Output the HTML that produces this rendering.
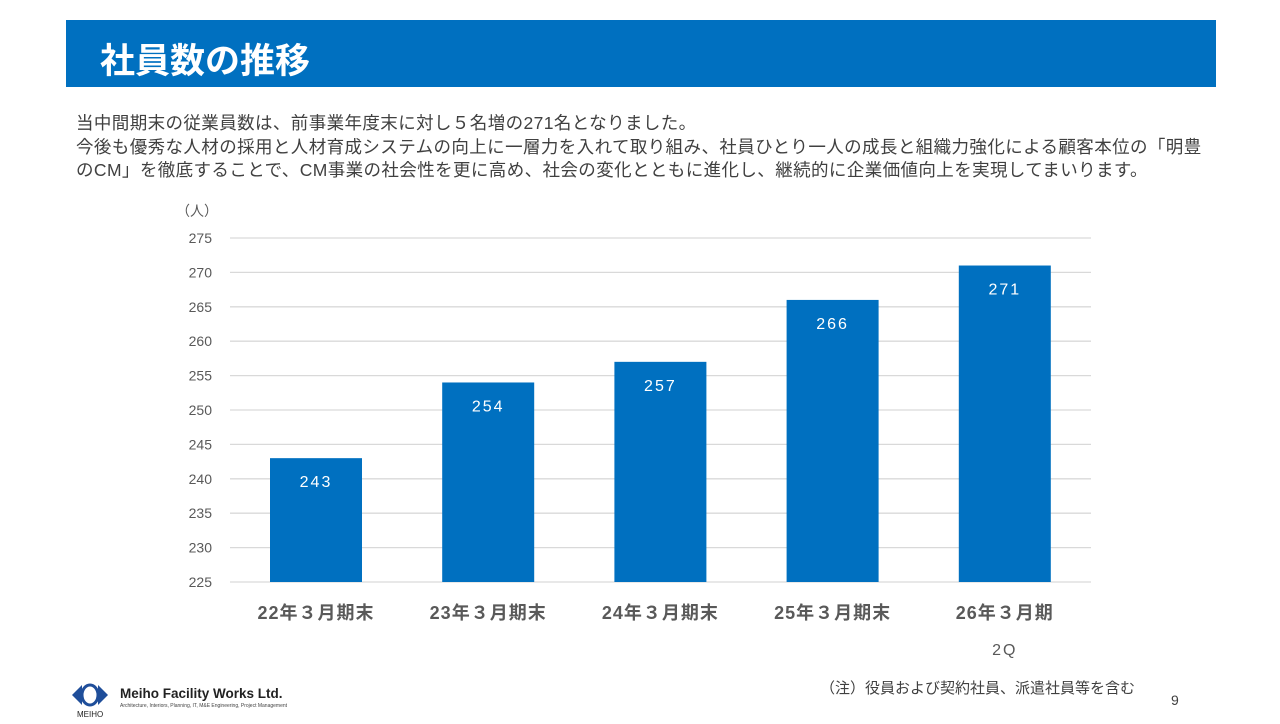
<!DOCTYPE html>
<html><head><meta charset="utf-8"><style>
body{margin:0;width:1280px;height:720px;background:#fff;position:relative;overflow:hidden;font-family:"Liberation Sans","Noto Sans CJK JP",sans-serif;}
.abs{position:absolute;}
</style></head><body>
<div class="abs" style="left:66px;top:20px;width:1150px;height:67px;background:#0070c0;"></div>
<div class="abs" style="left:100px;top:40px;font-size:35px;font-weight:bold;color:#fff;line-height:44px;">社員数の推移</div>
<div class="abs" style="left:76px;top:112px;font-size:17.5px;color:#404040;line-height:23.5px;letter-spacing:0.4px;width:1180px;white-space:nowrap;">当中間期末の従業員数は、前事業年度末に対し５名増の271名となりました。<br>今後も優秀な人材の採用と人材育成システムの向上に一層力を入れて取り組み、社員ひとり一人の成長と組織力強化による顧客本位の「明豊<br>のCM」を徹底することで、CM事業の社会性を更に高め、社会の変化とともに進化し、継続的に企業価値向上を実現してまいります。</div>
<svg class="abs" style="left:0;top:0" width="1280" height="720">
<g id="g"></g>
</svg>
<div class="abs" style="left:820px;top:677px;font-size:15px;color:#404040;">（注）役員および契約社員、派遣社員等を含む</div>
<div class="abs" style="left:1171px;top:692px;font-size:14px;color:#404040;">9</div>
<div class="abs" style="left:72px;top:683px;">
<svg width="40" height="36"><polygon points="0,12 10,2 10,22" fill="#1f4e9a"/><polygon points="36,12 26,2 26,22" fill="#1f4e9a"/><ellipse cx="18" cy="12" rx="8" ry="10" fill="none" stroke="#1f4e9a" stroke-width="3"/><text x="5" y="34" font-size="8" font-family="Liberation Sans" fill="#222">MEIHO</text></svg>
</div>
<div class="abs" style="left:120px;top:686px;font-size:13.5px;font-weight:bold;color:#222;">Meiho Facility Works Ltd.</div>
<div class="abs" style="left:120px;top:703px;font-size:5px;color:#444;">Architecture, Interiors, Planning, IT, M&amp;E Engineering, Project Management</div>
<script>
const categories=["22年３月期末","23年３月期末","24年３月期末","25年３月期末","26年３月期"];
const values=[243,254,257,266,271];
const ticks=[225,230,235,240,245,250,255,260,265,270,275];
const g=document.getElementById('g');
const NS='http://www.w3.org/2000/svg';
const y=v=>582-(v-225)*6.88;
const x=i=>316+i*172.2;
function mk(t,a,txt){const e=document.createElementNS(NS,t);for(const k in a)e.setAttribute(k,a[k]);if(txt!==undefined)e.textContent=txt;g.appendChild(e);return e;}
ticks.forEach(t=>{
const l=mk('line',{x1:230,x2:1091,y1:y(t),y2:y(t),stroke:'#d9d9d9','stroke-width':1.3});


const tx=mk('text',{x:212,y:y(t)+5,'text-anchor':'end','font-size':14,fill:'#595959','font-family':'Liberation Sans'},t);


});
const u=mk('text',{x:176,y:216,'font-size':14,fill:'#595959','font-family':'Liberation Sans, Noto Sans CJK JP, sans-serif'},'（人）');


values.forEach((v,i)=>{
const b=mk('rect',{x:x(i)-46,y:y(v),width:92,height:582-y(v),fill:'#0070c0'});


const t=mk('text',{x:x(i),y:y(v)+29,'text-anchor':'middle','font-size':16,fill:'#fff','letter-spacing':2,'font-family':'Liberation Sans'},v);


const c=mk('text',{x:x(i),y:619,'text-anchor':'middle','font-size':18,'font-weight':'bold',fill:'#595959','letter-spacing':1,'font-family':'Liberation Sans, Noto Sans CJK JP, sans-serif'},categories[i]);


});
const q=mk('text',{x:x(4),y:655,'text-anchor':'middle','font-size':16,fill:'#595959','letter-spacing':2,'font-family':'Liberation Sans'},'2Q');


</script>
</body></html>
